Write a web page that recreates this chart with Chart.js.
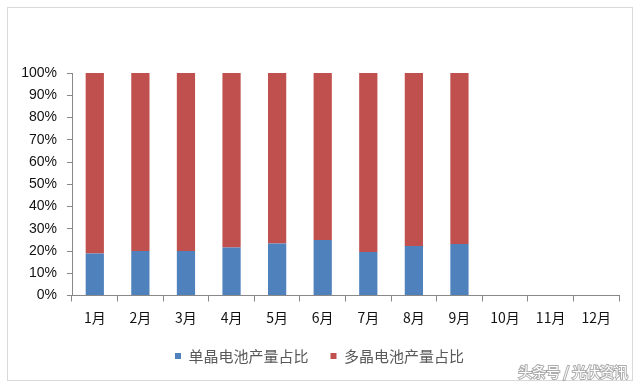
<!DOCTYPE html>
<html><head><meta charset="utf-8">
<script src="https://cdn.jsdelivr.net/npm/chart.js@4/dist/chart.umd.min.js"></script>
<style>html,body{margin:0;padding:0;background:#fff;}#wrap{width:640px;height:386px;position:relative;}</style>
</head><body><div id="wrap"><canvas id="c" width="640" height="386"></canvas></div>
<script>
const categories = ['1月','2月','3月','4月','5月','6月','7月','8月','9月','10月','11月','12月'];
const monoShare = [18.9, 20.0, 20.0, 21.6, 23.4, 24.9, 19.5, 22.3, 23.1, null, null, null];
const polyShare = [81.1, 80.0, 80.0, 78.4, 76.6, 75.1, 80.5, 77.7, 76.9, null, null, null];
const seriesNames = ['单晶电池产量占比', '多晶电池产量占比'];
const yTicks = [0,10,20,30,40,50,60,70,80,90,100];

const frame = {
  id: 'frame',
  afterDraw(chart) {
    const ctx = chart.ctx;
    ctx.save();
    ctx.strokeStyle = '#d9d9d9';
    ctx.lineWidth = 1;
    ctx.strokeRect(7.5, 7.5, 625, 373);
    ctx.font = '14px "Noto Sans CJK SC"';
    ctx.textAlign = 'right';
    ctx.textBaseline = 'middle';
    ctx.lineWidth = 2;
    ctx.strokeStyle = 'rgba(120,120,120,0.6)';
    ctx.strokeText('头条号 / 光伏资讯', 628, 372);
    ctx.fillStyle = '#fff';
    ctx.fillText('头条号 / 光伏资讯', 628, 372);
    ctx.restore();
  }
};

new Chart(document.getElementById('c'), {
  type: 'bar',
  data: {
    labels: categories,
    datasets: [
      { label: seriesNames[0], data: monoShare, backgroundColor: '#4F81BD', barPercentage: 0.4, categoryPercentage: 1 },
      { label: seriesNames[1], data: polyShare, backgroundColor: '#C0504D', barPercentage: 0.4, categoryPercentage: 1 }
    ]
  },
  options: {
    responsive: false,
    animation: false,
    layout: { padding: { left: 20, right: 21, top: 73, bottom: 12.5 } },
    plugins: {
      legend: {
        position: 'bottom',
        labels: { font: { family: '"Noto Sans CJK SC"', size: 15 }, color: '#595959', boxWidth: 6, boxHeight: 6, padding: 22 }
      },
      tooltip: { enabled: false }
    },
    scales: {
      x: {
        stacked: true,
        afterFit(axis) { axis.height = 31; },
        grid: { display: true, drawOnChartArea: false, drawTicks: true, tickLength: 6, color: '#888', offset: true },
        border: { color: '#888' },
        ticks: { font: { family: '"Noto Sans CJK SC"', size: 14 }, color: '#111', padding: 8 }
      },
      y: {
        stacked: true,
        min: 0, max: 100,
        afterFit(axis) { axis.width = 52; },
        afterBuildTicks(axis) { axis.ticks = yTicks.map(v => ({ value: v })); },
        grid: { display: true, drawOnChartArea: false, drawTicks: true, tickLength: 5, color: '#888' },
        border: { color: '#888' },
        ticks: { font: { family: '"Liberation Sans"', size: 14 }, color: '#111', padding: 10, callback: v => v + '%' }
      }
    }
  },
  plugins: [frame]
});
</script></body></html>
